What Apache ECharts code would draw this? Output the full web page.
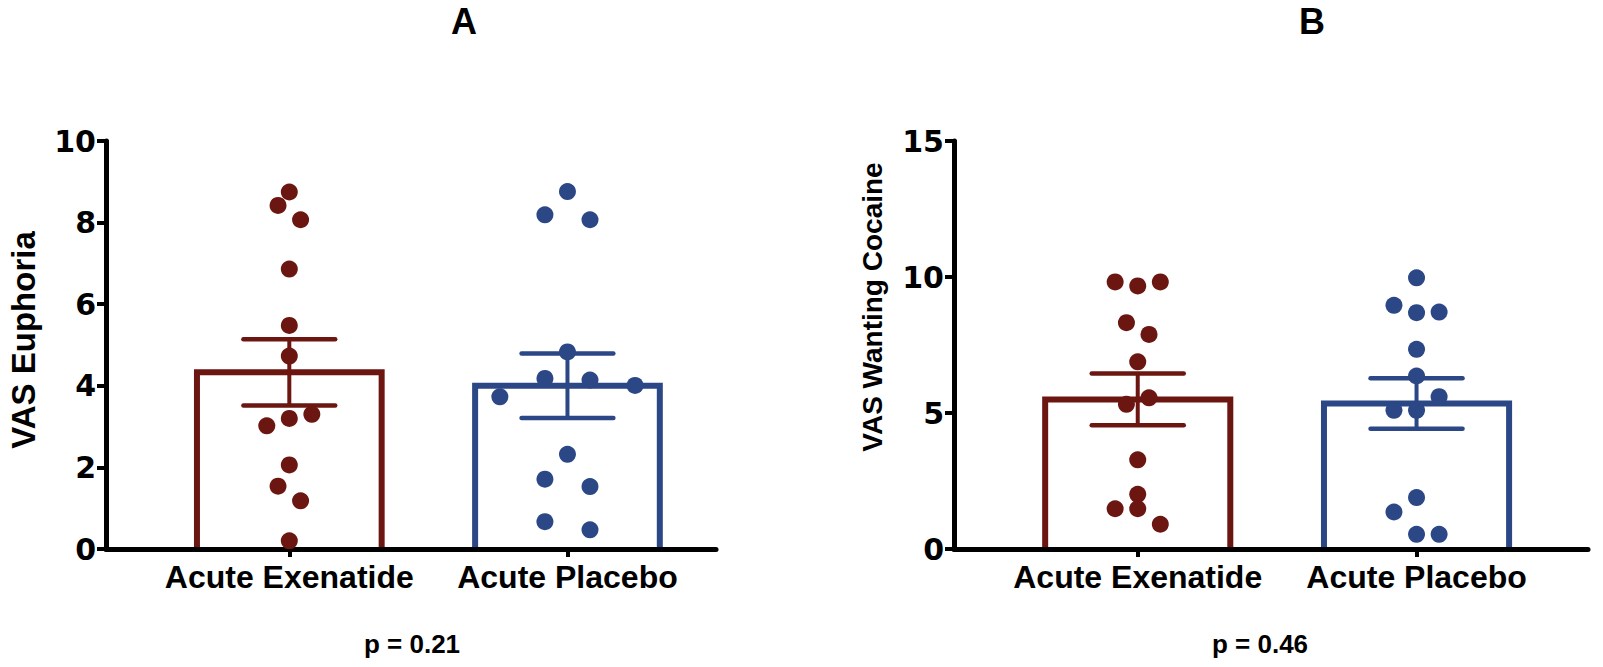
<!DOCTYPE html>
<html><head><meta charset="utf-8">
<script src="https://cdn.jsdelivr.net/npm/echarts@6/dist/echarts.min.js"></script>
<style>html,body{margin:0;padding:0;background:#fff}#c{width:1603px;height:667px}</style>
</head><body><div id="c"></div>
<script>
// ---------------- data ----------------
const categories = ['Acute Exenatide', 'Acute Placebo'];
const panelTitles = ['A', 'B'];
const yAxisNames = ['VAS Euphoria', 'VAS Wanting Cocaine'];
const pValues = ['p = 0.21', 'p = 0.46'];
const yTicksA = [0, 2, 4, 6, 8, 10];
const yTicksB = [0, 5, 10, 15];

// Panel A: VAS Euphoria (individual subjects, beeswarm lane index)
const euphoriaExenatide     = [8.75, 8.42, 8.07, 6.86, 5.48, 4.73, 3.02, 3.20, 3.30, 2.06, 1.54, 1.18, 0.20];
const euphoriaExenatideLane = [0, -1, 1, 0, 0, 0, -2, 0, 2, 0, -1, 1, 0];
const euphoriaPlacebo       = [8.76, 8.19, 8.07, 4.83, 4.18, 4.14, 4.01, 3.73, 2.32, 1.71, 1.53, 0.67, 0.47];
const euphoriaPlaceboLane   = [0, -2, 2, 0, -2, 2, 6, -6, 0, -2, 2, -2, 2];
const euphoriaMean = [4.33, 4.00];
const euphoriaSem  = [0.81, 0.79];

// Panel B: VAS Wanting Cocaine
const wantingExenatide     = [9.82, 9.67, 9.82, 8.32, 7.89, 6.88, 5.56, 5.32, 3.28, 2.01, 1.48, 1.48, 0.91];
const wantingExenatideLane = [-2, 0, 2, -1, 1, 0, 1, -1, 0, 0, -2, 0, 2];
const wantingPlacebo       = [9.97, 8.96, 8.69, 8.71, 7.34, 6.36, 5.60, 5.10, 5.10, 1.89, 1.36, 0.54, 0.54];
const wantingPlaceboLane   = [0, -2, 0, 2, 0, 0, 2, -2, 0, 0, -2, 0, 2];
const wantingMean = [5.50, 5.35];
const wantingSem  = [0.95, 0.93];

// ---------------- style ----------------
const COLORS = ['#6b1611', '#2b4786'];
const FONT = '"Liberation Sans", Arial, Helvetica, sans-serif';
const LANE = 0.0405;   // beeswarm lane width, in category units
const BAR_W = 0.664;   // bar width, in category units
const CAP_W = 0.33;    // error-bar cap width, in category units

function renderBars(params, api) {
  const i = api.value(0), m = api.value(1), s = api.value(2);
  const c = COLORS[i];
  const base = api.coord([i, 0]);
  const top = api.coord([i, m]);
  const hi = api.coord([i, m + s]);
  const lo = api.coord([i, m - s]);
  const w = api.size([BAR_W, 0])[0];
  const cw = api.size([CAP_W, 0])[0];
  const x = top[0];
  return {
    type: 'group',
    children: [
      { type: 'polyline', shape: { points: [[x - w / 2, base[1]], [x - w / 2, top[1]], [x + w / 2, top[1]], [x + w / 2, base[1]]] },
        style: { fill: 'none', stroke: c, lineWidth: 6, lineJoin: 'miter' } },
      { type: 'line', shape: { x1: x, y1: hi[1], x2: x, y2: lo[1] }, style: { stroke: c, lineWidth: 4 } },
      { type: 'line', shape: { x1: x - cw / 2, y1: hi[1], x2: x + cw / 2, y2: hi[1] }, style: { stroke: c, lineWidth: 4.5, lineCap: 'round' } },
      { type: 'line', shape: { x1: x - cw / 2, y1: lo[1], x2: x + cw / 2, y2: lo[1] }, style: { stroke: c, lineWidth: 4.5, lineCap: 'round' } }
    ]
  };
}

function pts(values, lanes, cat) {
  return values.map((v, k) => [cat + lanes[k] * LANE, v]);
}

function makeX(idx, min, max) {
  return {
    gridIndex: idx, type: 'value', min: min, max: max, z: 3,
    splitLine: { show: false },
    axisLine: { show: true, onZero: false, lineStyle: { color: '#000', width: 5 } },
    axisTick: { show: true, customValues: [0, 1], length: 8, inside: false, lineStyle: { color: '#000', width: 4 } },
    axisLabel: { show: true, customValues: [0, 1], margin: 12, color: '#000', fontSize: 32, fontWeight: 'bold', fontFamily: FONT,
      formatter: v => categories[Math.round(v)] }
  };
}
function makeY(idx, ticks, name, nameSize, gap, shift) {
  return {
    gridIndex: idx, type: 'value', min: ticks[0], max: ticks[ticks.length - 1], interval: ticks[1] - ticks[0], z: 3,
    splitLine: { show: false },
    axisLine: { show: true, onZero: false, lineStyle: { color: '#000', width: 5 } },
    axisTick: { show: true, length: 9, lineStyle: { color: '#000', width: 4 } },
    axisLabel: { margin: 10, color: '#000', fontSize: 30, fontWeight: 'bold', fontFamily: '"DejaVu Sans", sans-serif' },
    name: name, nameLocation: 'middle', nameRotate: 90, nameGap: gap,
    nameTextStyle: { color: '#000', fontSize: nameSize, fontWeight: 'bold', fontFamily: FONT, padding: [0, 0, 0, shift] }
  };
}

const chart = echarts.init(document.getElementById('c'), null, { renderer: 'svg' });
chart.setOption({
  animation: false,
  backgroundColor: '#fff',
  grid: [
    { left: 106, top: 141, width: 610, height: 408 },
    { left: 954, top: 141, width: 634, height: 408 }
  ],
  xAxis: [makeX(0, -0.659, 1.534), makeX(1, -0.659, 1.615)],
  yAxis: [makeY(0, yTicksA, yAxisNames[0], 33, 66, 10), makeY(1, yTicksB, yAxisNames[1], 28, 68, 76)],
  series: [
    { type: 'custom', xAxisIndex: 0, yAxisIndex: 0, z: 2, renderItem: renderBars,
      data: categories.map((c, i) => [i, euphoriaMean[i], euphoriaSem[i]]) },
    { type: 'custom', xAxisIndex: 1, yAxisIndex: 1, z: 2, renderItem: renderBars,
      data: categories.map((c, i) => [i, wantingMean[i], wantingSem[i]]) },
    { type: 'scatter', xAxisIndex: 0, yAxisIndex: 0, z: 4, symbolSize: 17, itemStyle: { color: COLORS[0], opacity: 1 },
      data: pts(euphoriaExenatide, euphoriaExenatideLane, 0) },
    { type: 'scatter', xAxisIndex: 0, yAxisIndex: 0, z: 4, symbolSize: 17, itemStyle: { color: COLORS[1], opacity: 1 },
      data: pts(euphoriaPlacebo, euphoriaPlaceboLane, 1) },
    { type: 'scatter', xAxisIndex: 1, yAxisIndex: 1, z: 4, symbolSize: 17, itemStyle: { color: COLORS[0], opacity: 1 },
      data: pts(wantingExenatide, wantingExenatideLane, 0) },
    { type: 'scatter', xAxisIndex: 1, yAxisIndex: 1, z: 4, symbolSize: 17, itemStyle: { color: COLORS[1], opacity: 1 },
      data: pts(wantingPlacebo, wantingPlaceboLane, 1) }
  ],
  graphic: [
    { type: 'text', x: 464, y: 3, style: { text: panelTitles[0], font: 'bold 36px ' + FONT, fill: '#000', textAlign: 'center', textVerticalAlign: 'top' } },
    { type: 'text', x: 1312, y: 3, style: { text: panelTitles[1], font: 'bold 36px ' + FONT, fill: '#000', textAlign: 'center', textVerticalAlign: 'top' } },
    { type: 'text', x: 412, y: 631, style: { text: pValues[0], font: 'bold 26px ' + FONT, fill: '#000', textAlign: 'center', textVerticalAlign: 'top' } },
    { type: 'text', x: 1260, y: 631, style: { text: pValues[1], font: 'bold 26px ' + FONT, fill: '#000', textAlign: 'center', textVerticalAlign: 'top' } }
  ]
});
</script>
</body></html>
